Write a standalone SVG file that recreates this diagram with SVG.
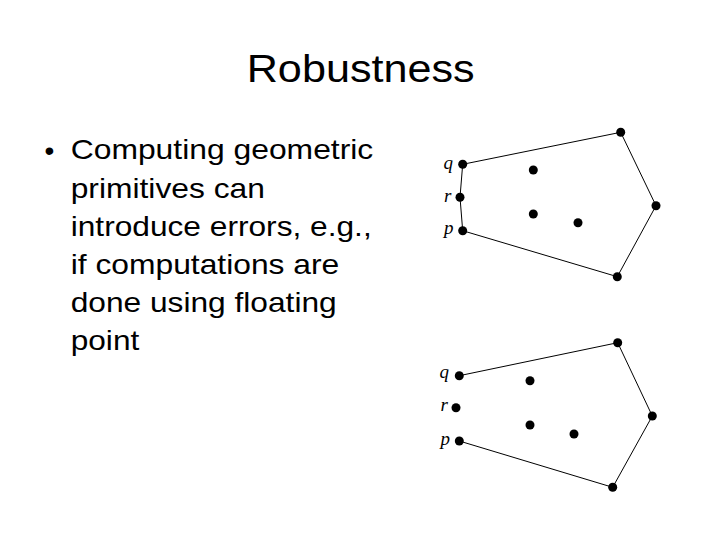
<svg xmlns="http://www.w3.org/2000/svg" width="720" height="540" viewBox="0 0 720 540">
<style>
.t{font-family:"Liberation Sans",Arial,sans-serif;fill:#000}
.lbl{font-family:"Liberation Serif","Times New Roman",serif;font-style:italic;font-size:19px;fill:#000}
.e{stroke:#000;stroke-width:1;fill:none}
.pt{fill:#000}
</style>
<rect width="720" height="540" fill="#fff"/>
<text class="t" x="246.7" y="82" font-size="38" textLength="228" lengthAdjust="spacingAndGlyphs">Robustness</text>
<g id="bullet">
<text class="t" x="44.5" y="159.5" font-size="28">•</text>
<text class="t" x="70.7" y="159.3" font-size="28" textLength="302.6" lengthAdjust="spacingAndGlyphs">Computing geometric</text>
<text class="t" x="70.7" y="197.5" font-size="28" textLength="194.3" lengthAdjust="spacingAndGlyphs">primitives can</text>
<text class="t" x="70.7" y="235.7" font-size="28" textLength="301" lengthAdjust="spacingAndGlyphs">introduce errors, e.g.,</text>
<text class="t" x="70.7" y="273.9" font-size="28" textLength="268.6" lengthAdjust="spacingAndGlyphs">if computations are</text>
<text class="t" x="70.7" y="312.1" font-size="28" textLength="266" lengthAdjust="spacingAndGlyphs">done using floating</text>
<text class="t" x="70.7" y="350.3" font-size="28" textLength="68.6" lengthAdjust="spacingAndGlyphs">point</text>
</g>
<g id="connectors">
<polyline class="e" points="462.7,164.3 620.7,132.3 656,205.7 617.3,276.7 462.7,230.7"/>
<polyline class="e" stroke-width="2" points="462.7,164.3 460,197.3 462.7,230.7"/>
<polyline class="e" points="459.3,375.7 617.7,342.7 652.3,416 612.7,487.3 459.3,441"/>
</g>
<g id="top-q"><circle class="pt" cx="462.7" cy="164.3" r="4.5"/><text class="lbl" x="443.5" y="168.5">q</text></g>
<g id="top-r"><circle class="pt" cx="460" cy="197.3" r="4.5"/><text class="lbl" x="444" y="201.5">r</text></g>
<g id="top-p"><circle class="pt" cx="462.7" cy="230.7" r="4.5"/><text class="lbl" x="444" y="233.8">p</text></g>
<g id="top-a"><circle class="pt" cx="620.7" cy="132.3" r="4.5"/></g>
<g id="top-b"><circle class="pt" cx="656" cy="205.7" r="4.5"/></g>
<g id="top-c"><circle class="pt" cx="617.3" cy="276.7" r="4.5"/></g>
<g id="top-i1"><circle class="pt" cx="533.3" cy="170" r="4.5"/></g>
<g id="top-i2"><circle class="pt" cx="533.3" cy="214" r="4.5"/></g>
<g id="top-i3"><circle class="pt" cx="578" cy="222.7" r="4.5"/></g>
<g id="bot-q"><circle class="pt" cx="459.3" cy="375.7" r="4.5"/><text class="lbl" x="439.5" y="377.8">q</text></g>
<g id="bot-r"><circle class="pt" cx="456" cy="407.7" r="4.5"/><text class="lbl" x="440.5" y="411.2">r</text></g>
<g id="bot-p"><circle class="pt" cx="459.3" cy="441" r="4.5"/><text class="lbl" x="440.5" y="445">p</text></g>
<g id="bot-a"><circle class="pt" cx="617.7" cy="342.7" r="4.5"/></g>
<g id="bot-b"><circle class="pt" cx="652.3" cy="416" r="4.5"/></g>
<g id="bot-c"><circle class="pt" cx="612.7" cy="487.3" r="4.5"/></g>
<g id="bot-i1"><circle class="pt" cx="530" cy="380.7" r="4.5"/></g>
<g id="bot-i2"><circle class="pt" cx="530" cy="425" r="4.5"/></g>
<g id="bot-i3"><circle class="pt" cx="574" cy="434" r="4.5"/></g>
</svg>
